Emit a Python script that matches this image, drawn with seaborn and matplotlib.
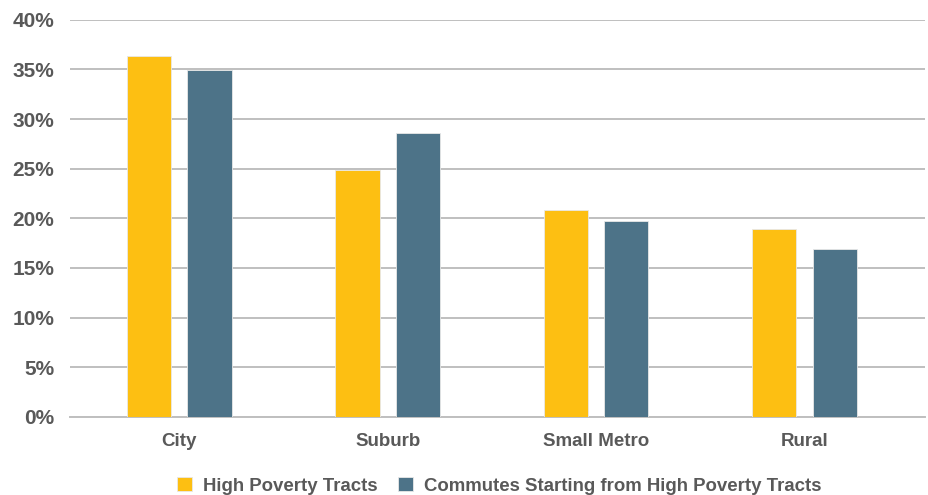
import pandas as pd
import matplotlib.pyplot as plt
import seaborn as sns
from matplotlib.ticker import FuncFormatter

# Dados
categories = ['City', 'Suburb', 'Small Metro', 'Rural']
high_poverty = [36.4, 24.9, 20.8, 18.9]
commutes = [34.9, 28.6, 19.7, 16.9]
series_names = ['High Poverty Tracts', 'Commutes Starting from High Poverty Tracts']

df = pd.DataFrame({
    'category': categories * 2,
    'value': high_poverty + commutes,
    'series': [series_names[0]] * 4 + [series_names[1]] * 4,
})

sns.set_style('white')
plt.rcParams['font.family'] = ['Liberation Sans', 'DejaVu Sans']

fig = plt.figure(figsize=(9.29, 4.95), dpi=100)
ax = fig.add_axes([0.075, 0.158, 0.921, 0.802])

sns.barplot(data=df, x='category', y='value', hue='series',
            palette=['#FDBF12', '#4D7388'], saturation=1, width=0.58, gap=0.27,
            edgecolor='#e8e8e8', linewidth=0.6, ax=ax, zorder=3)

ax.set_ylim(0, 40)
ax.set_xlim(-0.526, 3.579)
ax.set_yticks(range(0, 41, 5))
ax.yaxis.set_major_formatter(FuncFormatter(lambda v, p: f'{int(v)}%'))
ax.grid(axis='y', color='#bfbfbf', linewidth=1.4, zorder=0)
ax.set_axisbelow(True)
for s in ['top', 'right', 'left']:
    ax.spines[s].set_visible(False)
ax.spines['bottom'].set_color('#bfbfbf')
ax.spines['bottom'].set_linewidth(1.4)
ax.tick_params(axis='y', length=0, pad=11, labelsize=15, labelcolor='#595959')
ax.tick_params(axis='x', length=0, pad=12, labelsize=13.5, labelcolor='#595959')
for t in ax.get_yticklabels() + ax.get_xticklabels():
    t.set_fontweight('bold')
ax.set_xlabel('')
ax.set_ylabel('')

leg = ax.legend(loc='upper center', bbox_to_anchor=(0.502, -0.11), ncol=2,
                frameon=False, handlelength=0.8, handleheight=0.8,
                columnspacing=1.1, handletextpad=0.6,
                prop={'weight': 'bold', 'size': 13.4})
for t in leg.get_texts():
    t.set_color('#595959')

plt.savefig('out.png', dpi=100)
